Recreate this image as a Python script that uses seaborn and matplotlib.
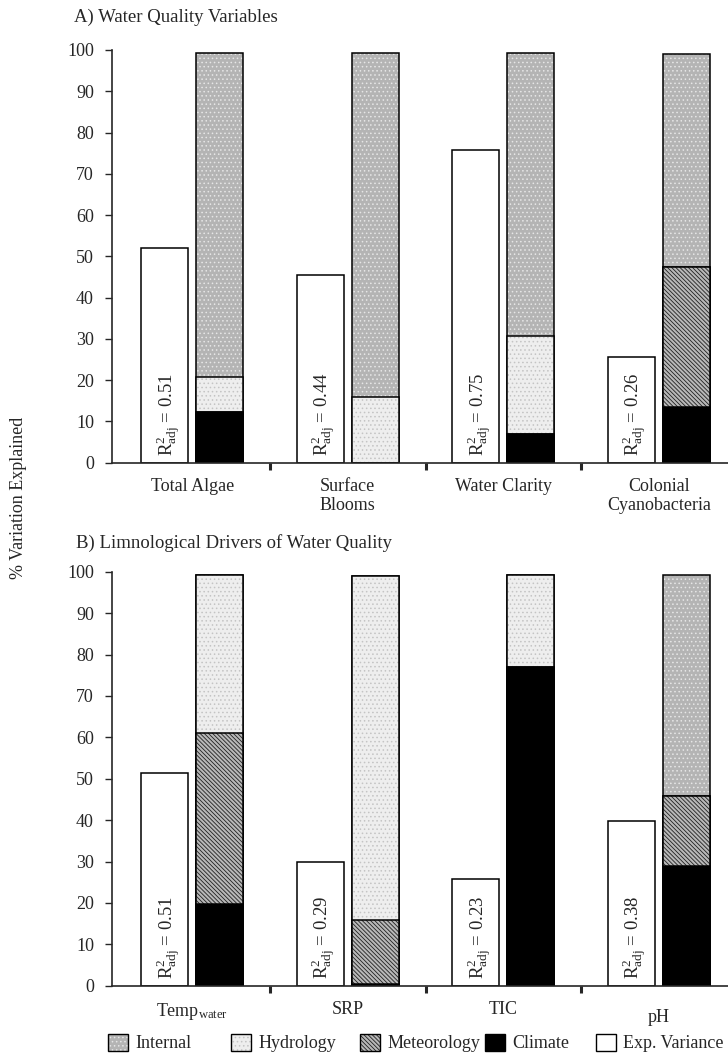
import numpy as np
import matplotlib
matplotlib.use("Agg")
import matplotlib.pyplot as plt
import matplotlib.colors as mcolors
import matplotlib.transforms as mtransforms
from matplotlib.patches import Patch
import seaborn as sns

# Panel A data
cats_a = ["Total Algae", "Surface\nBlooms", "Water Clarity", "Colonial\nCyanobacteria"]
r2_a = [0.51, 0.44, 0.75, 0.26]
exp_a = [52, 45.5, 75.8, 25.5]
climate_a = [12.2, 0, 7, 13.5]
meteo_a = [0, 0, 0, 33.9]
hydro_a = [8.6, 16, 23.8, 0]
internal_a = [78.5, 83.3, 68.5, 51.6]

# Panel B data
cats_b = ["Temp$_{\\mathrm{water}}$", "SRP", "TIC", "pH"]
r2_b = [0.51, 0.29, 0.23, 0.38]
exp_b = [51.4, 29.8, 25.7, 39.9]
climate_b = [19.8, 0.4, 77, 29]
meteo_b = [41.2, 15.4, 0, 16.8]
hydro_b = [38.3, 83.2, 22.2, 0]
internal_b = [0, 0, 0, 53.4]

legend_names = ["Internal", "Hydrology", "Meteorology", "Climate", "Exp. Variance"]

sns.set_style("ticks")
plt.rcParams["font.family"] = ["Liberation Serif", "DejaVu Serif"]
plt.rcParams["mathtext.fontset"] = "custom"
plt.rcParams["mathtext.rm"] = "Liberation Serif"
plt.rcParams["mathtext.it"] = "Liberation Serif:italic"
plt.rcParams["hatch.linewidth"] = 0.6

# fill, hatch, hatch colour
styles = {
    "Internal": ("#b4b4b4", "....", "#e6e6e6"),
    "Hydrology": ("#eeeeee", "....", "#c4c4c4"),
    "Meteorology": ("#b8b8b8", "\\\\\\\\\\\\\\\\", "#202020"),
    "Climate": ("black", None, "black"),
    "Exp. Variance": ("white", None, "black"),
}

off = 0.177
bw = 0.30
FS = 13


def bars(ax, xs, ys, name):
    fc, hatch, hc = styles[name]
    n0 = len(ax.patches)
    sns.barplot(x=xs, y=ys, native_scale=True, width=bw, color=fc,
                saturation=1, edgecolor="black", linewidth=1.1,
                hatch=hatch, errorbar=None, ax=ax)
    for p in ax.patches[n0:]:
        p._hatch_color = mcolors.to_rgba(hc)


def panel(ax, cats, r2, exp, climate, meteo, hydro, internal):
    idx = np.arange(len(cats))
    bars(ax, idx - off, exp, "Exp. Variance")
    c1 = np.array(climate)
    c2 = c1 + np.array(meteo)
    c3 = c2 + np.array(hydro)
    c4 = c3 + np.array(internal)
    # draw cumulative tops first, lower layers over them
    bars(ax, idx + off, c4, "Internal")
    bars(ax, idx + off, c3, "Hydrology")
    bars(ax, idx + off, c2, "Meteorology")
    bars(ax, idx + off, c1, "Climate")
    for i, r in enumerate(r2):
        ax.text(i - off + 0.02, 1.6, "R$^{2}_{\\mathrm{adj}}$ = %.2f" % r, rotation=90,
                ha="center", va="bottom", fontsize=FS + 0.5)
    ax.set_xlim(-0.516, 3.445)
    ax.set_ylim(0, 100)
    ax.set_yticks(range(0, 101, 10))
    ax.set_xticks(idx)
    ax.set_xticklabels(cats, fontsize=FS, linespacing=1.15)
    ax.set_xticks(idx[:-1] + 0.5, minor=True)
    ax.tick_params(axis="x", which="major", length=0, pad=11)
    ax.tick_params(axis="x", which="minor", length=5, width=2.2, direction="out")
    ax.tick_params(axis="y", length=5, width=1, labelsize=FS, direction="out", pad=8)
    for s in ("top", "right"):
        ax.spines[s].set_visible(False)
    for s in ("left", "bottom"):
        ax.spines[s].set_linewidth(1.2)
    ax.set_xlabel("")
    ax.set_ylabel("")


fig = plt.figure(figsize=(7.28, 10.63), dpi=100)
W, H = 728, 1063
ax_a = fig.add_axes([112 / W, 1 - 462.7 / H, 1 - 112 / W, 412.7 / H])
ax_b = fig.add_axes([112 / W, 1 - 985.7 / H, 1 - 112 / W, 414 / H])

panel(ax_a, cats_a, r2_a, exp_a, climate_a, meteo_a, hydro_a, internal_a)
panel(ax_b, cats_b, r2_b, exp_b, climate_b, meteo_b, hydro_b, internal_b)

# pH label sits a little lower in the original
lab = ax_b.get_xticklabels()[3]
lab.set_transform(lab.get_transform() + mtransforms.ScaledTranslation(0, -8 / 100, fig.dpi_scale_trans))

fig.text(74 / W, 1 - 17 / H, "A) Water Quality Variables", fontsize=FS + 0.5, va="center")
fig.text(76 / W, 1 - 543 / H, "B) Limnological Drivers of Water Quality", fontsize=FS + 0.5, va="center")
fig.text(19 / W, 1 - 498 / H, "% Variation Explained", rotation=90, fontsize=FS,
         ha="center", va="center")

# one legend entry per item, placed like the original
legend_x = [108, 231, 360, 485, 596]
for name, lx in zip(legend_names, legend_x):
    fc, hatch, hc = styles[name]
    h = Patch(facecolor=fc, edgecolor="black", hatch=hatch, linewidth=1, label=name)
    h._hatch_color = mcolors.to_rgba(hc)
    fig.legend(handles=[h], loc="center left", bbox_to_anchor=(lx / W, 1 - 1043 / H),
               frameon=False, fontsize=FS, handlelength=1.1, handleheight=1.1,
               handletextpad=0.4, borderaxespad=0, borderpad=0)

fig.savefig("out.png", dpi=100)
